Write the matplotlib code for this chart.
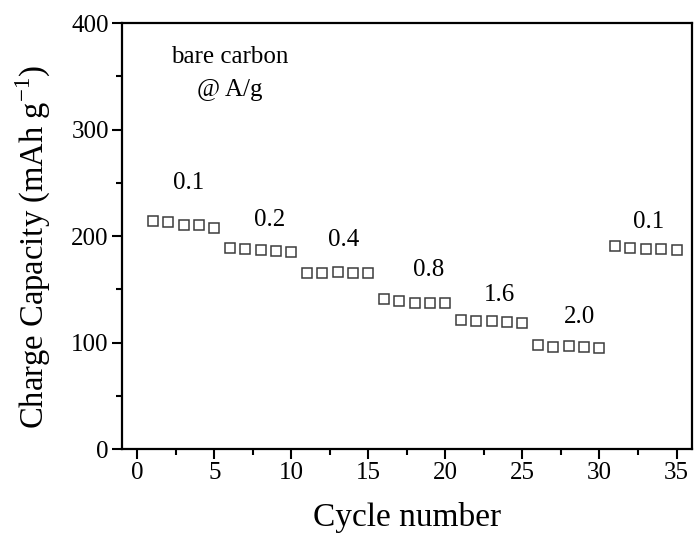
import numpy as np
import matplotlib
matplotlib.use('Agg')
import matplotlib.pyplot as plt
from matplotlib.ticker import MultipleLocator

# ================
# Data
# ================
cycles = np.arange(1, 36)
capacity = [214, 213, 210, 210, 208,
            189, 188, 187, 186, 185,
            165, 165, 166, 165, 165,
            141, 139, 137, 137, 137,
            121, 120, 120, 119, 118,
            98, 96, 97, 96, 95,
            191, 189, 188, 188, 187]

rate_labels = ['0.1', '0.2', '0.4', '0.8', '1.6', '2.0', '0.1']
rate_x = [3.3, 8.6, 13.4, 18.9, 23.5, 28.7, 33.2]
rate_y = [250, 215, 196, 168, 145, 124, 213]

# ================
# Style
# ================
plt.rcParams['font.family'] = ['Liberation Serif', 'DejaVu Serif']
plt.rcParams['mathtext.fontset'] = 'custom'
plt.rcParams['mathtext.rm'] = 'Liberation Serif'

fig = plt.figure(figsize=(6.94, 5.38), dpi=100)
ax = fig.add_axes([0.1758, 0.1654, 0.997 - 0.1758, 0.957 - 0.1654])

ax.plot(cycles, capacity, 's', markersize=7.5, markerfacecolor='none',
        markeredgecolor='#3c3c3c', markeredgewidth=1.1)

for lab, x, y in zip(rate_labels, rate_x, rate_y):
    ax.text(x, y, lab, fontsize=18, ha='center', va='center')

ax.text(6.0, 368, 'bare carbon', fontsize=18, ha='center', va='center')
ax.text(6.0, 337, '@ A/g', fontsize=18, ha='center', va='center')

ax.set_xlim(-1, 36)
ax.set_ylim(0, 400)
ax.xaxis.set_major_locator(MultipleLocator(5))
ax.xaxis.set_minor_locator(MultipleLocator(2.5))
ax.yaxis.set_major_locator(MultipleLocator(100))
ax.yaxis.set_minor_locator(MultipleLocator(50))
ax.tick_params(which='major', direction='out', length=7, width=1.5,
               labelsize=18, pad=2.5)
ax.tick_params(which='minor', direction='out', length=4, width=1.5)
for s in ax.spines.values():
    s.set_linewidth(1.6)

ax.set_xlabel('Cycle number', fontsize=24)
ax.set_ylabel('Charge Capacity (mAh g$^{\\mathregular{-1}}$)', fontsize=23.5)
ax.xaxis.set_label_coords(0.5, -0.124)
ax.yaxis.set_label_coords(-0.121, 0.474)

fig.savefig('out.png', dpi=100)
